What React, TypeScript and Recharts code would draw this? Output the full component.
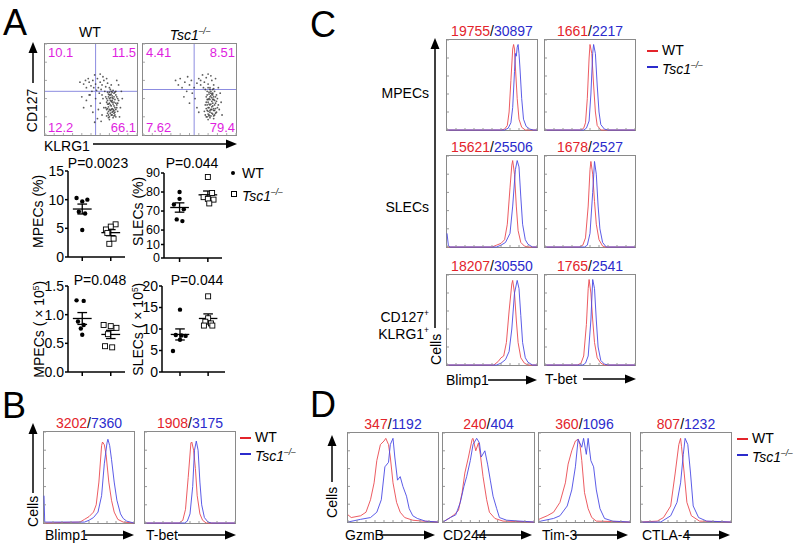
import React from "react";
import { ScatterChart, Scatter, LineChart, Line, XAxis, YAxis, ReferenceLine } from "recharts";

const FONT = "'Liberation Sans', Arial, Helvetica, sans-serif";
const TXT_RED = "#e3242b";
const TXT_BLUE = "#2b2bcc";
const CURVE_RED = "#ea4a50";
const CURVE_BLUE = "#4a4ae4";
const MAGENTA = "#e01ee0";
const QUAD = "#8c8ce0";
const AX = { stroke: "#000", strokeWidth: 1.5 };

type Pt = [number, number];

// ---------- panel A: flow plots (KLRG1 vs CD127, arbitrary 0-100 units) ----------
const wtQuad = ["10.1", "11.5", "12.2", "66.1"];
const koQuad = ["4.41", "8.51", "7.62", "79.4"];
const wtGate: Pt = [55, 48];
const koGate: Pt = [55, 50];

const wtFlow: Pt[] = [
  [70, 20], [72, 22], [74, 19], [68, 24], [76, 25], [71, 27], [73, 29], [69, 31], [75, 32], [77, 28],
  [70, 35], [72, 37], [74, 34], [68, 38], [76, 39], [71, 41], [73, 43], [69, 45], [75, 46], [78, 42],
  [67, 28], [79, 35], [70, 17], [73, 25], [75, 21], [72, 32], [74, 40], [70, 44], [77, 48], [71, 50],
  [66, 42], [68, 34], [78, 30], [76, 22], [73, 47], [80, 38], [69, 26], [74, 28], [72, 45], [70, 40],
  [67, 21], [69, 19], [71, 24], [73, 22], [75, 24], [77, 20], [79, 26], [66, 30], [68, 29], [70, 28],
  [72, 28], [74, 26], [76, 30], [78, 33], [67, 36], [69, 34], [71, 38], [73, 36], [75, 36], [77, 35],
  [79, 40], [67, 40], [69, 42], [71, 44], [73, 41], [75, 42], [77, 44], [70, 47], [72, 48], [74, 49],
  [68, 47], [76, 47],
  [58, 52], [62, 55], [66, 53], [60, 58], [64, 60], [55, 56], [50, 54], [52, 60], [48, 58], [45, 52],
  [57, 62], [61, 50], [68, 57], [70, 52], [63, 64], [54, 66], [47, 62], [42, 56], [59, 46], [65, 48],
  [72, 55], [56, 49], [51, 48], [44, 60], [60, 67], [67, 62], [53, 52], [49, 44], [62, 44], [38, 58],
  [45, 38], [50, 32], [55, 40], [58, 28], [60, 35], [62, 22], [52, 25], [48, 44], [40, 42], [64, 30],
  [57, 18], [63, 40], [42, 30], [54, 14], [61, 15], [82, 30], [84, 40], [81, 20], [83, 48], [80, 55],
  [78, 60], [71, 33], [73, 38], [75, 27], [69, 22],
];

const koFlow: Pt[] = [
  [68, 20], [70, 23], [72, 19], [74, 24], [76, 21], [69, 27], [71, 30], [73, 28], [75, 32], [77, 27],
  [78, 35], [70, 36], [72, 39], [74, 37], [76, 42], [68, 42], [71, 45], [73, 48], [75, 46], [79, 44],
  [67, 33], [80, 30], [72, 25], [74, 31], [70, 17], [76, 18], [78, 24], [71, 40], [73, 34], [75, 50],
  [69, 48], [77, 38], [80, 40], [66, 26], [73, 43], [70, 30], [74, 45], [68, 36], [72, 33], [76, 29],
  [67, 22], [69, 20], [71, 22], [73, 21], [75, 23], [77, 22], [79, 25], [81, 33], [68, 29], [70, 26],
  [72, 27], [74, 28], [76, 27], [78, 29], [69, 33], [71, 34], [75, 35], [77, 33], [79, 37], [70, 39],
  [72, 42], [74, 41], [76, 39], [78, 42], [69, 44], [71, 47], [73, 46], [75, 44], [77, 48], [72, 50],
  [70, 52], [76, 51],
  [62, 55], [66, 58], [70, 56], [74, 60], [68, 63], [64, 66], [72, 52], [60, 62], [76, 55], [78, 62],
  [65, 52], [70, 67], [58, 57], [73, 65], [67, 50], [62, 60], [45, 58], [50, 55], [40, 62], [35, 60],
  [48, 64], [52, 60], [42, 52], [55, 52], [38, 55], [47, 48], [53, 46], [44, 42], [56, 40], [58, 30],
  [60, 25], [50, 35], [82, 28], [84, 36], [83, 46], [81, 52], [85, 22], [71, 21], [75, 39], [69, 39],
];

// ---------- panel A: per-mouse values ----------
const mpecPctWT = [10.3, 10.0, 9.7, 7.9, 7.6, 4.7];
const mpecPctKO = [5.7, 5.3, 4.8, 4.2, 3.2, 2.3];
const slecPctWT = [80, 76.4, 73.4, 71, 65.6, 64.7];
const slecPctKO = [87.9, 79.5, 77.3, 76.4, 76, 74];
const mpecNumWT = [1.25, 1.24, 0.88, 0.82, 0.76, 0.65];
const mpecNumKO = [0.82, 0.8, 0.77, 0.66, 0.45, 0.43];
const slecNumWT = [14.5, 8.6, 8.5, 8.4, 7.5, 4.9];
const slecNumKO = [17.6, 12.5, 11.7, 11.3, 10.8, 10.8];

// horizontal scatter of the dots around each group
const mpecPctWTJit = [-0.2, 0.18, 0.0, -0.12, 0.1, 0.0];
const mpecPctKOJit = [0.17, 0.0, -0.17, -0.12, 0.1, -0.05];
const slecPctWTJit = [0.0, 0.0, -0.2, 0.15, -0.1, 0.1];
const slecPctKOJit = [0.0, 0.15, -0.15, 0.0, 0.2, 0.05];
const mpecNumWTJit = [-0.2, 0.05, -0.15, 0.05, -0.05, 0.0];
const mpecNumKOJit = [-0.25, 0.0, 0.2, -0.1, -0.2, 0.05];
const slecNumWTJit = [0.0, -0.15, 0.05, 0.2, 0.0, -0.25];
const slecNumKOJit = [0.0, 0.0, -0.1, 0.1, -0.15, 0.15];

const mpecPctTicks = [0, 5, 10, 15];
const slecPctTicks = [0, 10, 60, 70, 80, 90];
const mpecNumTicks = [0, 0.5, 1.0, 1.5];
const slecNumTicks = [0, 5, 10, 15, 20];

// ---------- histograms: [x %, height %] ----------
const mfiB = [["3202", "7360"], ["1908", "3175"]];
const bBlimpWT: Pt[] = [[0, 0], [40, 1], [45, 4], [50, 7], [55, 12], [58, 20], [61, 45], [64, 85], [65, 89], [67, 86], [69, 75], [72, 45], [75, 25], [78, 12], [82, 4], [88, 1], [100, 0]];
const bBlimpKO: Pt[] = [[0, 30], [0.8, 1], [45, 1], [50, 3], [55, 6], [60, 12], [64, 30], [67, 65], [70, 88], [71, 92], [73, 85], [75, 70], [78, 45], [81, 25], [85, 10], [88, 5], [92, 2], [100, 0]];
const bTbetWT: Pt[] = [[0, 0], [38, 0], [42, 3], [45, 15], [48, 50], [51, 88], [52, 89], [54, 80], [56, 60], [58, 30], [61, 10], [64, 3], [68, 0], [100, 0]];
const bTbetKO: Pt[] = [[0, 0], [44, 0], [47, 2], [50, 10], [53, 40], [55, 80], [57, 90], [59, 80], [61, 45], [63, 20], [66, 6], [70, 1], [74, 0], [100, 0]];

const mfiC = [["19755", "30897"], ["1661", "2217"], ["15621", "25506"], ["1678", "2527"], ["18207", "30550"], ["1765", "2541"]];
const cMpBlimpWT: Pt[] = [[0, 0], [60, 0], [64, 1], [67, 5], [69, 20], [71, 55], [73, 90], [74, 95], [75, 90], [76, 70], [78, 35], [80, 12], [83, 3], [87, 0], [100, 0]];
const cMpBlimpKO: Pt[] = [[0, 0], [64, 0], [68, 2], [71, 8], [73, 25], [75, 65], [76, 85], [77, 82], [78, 92], [79, 95], [80, 85], [81, 70], [83, 35], [85, 12], [88, 4], [92, 1], [96, 0], [100, 0]];
const cMpTbetWT: Pt[] = [[0, 0], [40, 0], [43, 2], [45, 8], [47, 35], [49, 80], [50, 95], [52, 85], [54, 50], [56, 20], [58, 5], [62, 0], [100, 0]];
const cMpTbetKO: Pt[] = [[0, 0], [43, 0], [46, 2], [49, 10], [51, 40], [53, 85], [54, 95], [56, 85], [58, 50], [60, 20], [62, 6], [66, 1], [70, 0], [100, 0]];
const cSlBlimpWT: Pt[] = [[0, 0], [50, 0], [55, 2], [60, 4], [64, 8], [67, 25], [70, 65], [72, 90], [73, 95], [75, 80], [77, 45], [79, 18], [82, 5], [86, 1], [90, 0], [100, 0]];
const cSlBlimpKO: Pt[] = [[0, 15], [1.5, 2], [3, 0], [55, 0], [60, 2], [65, 5], [70, 15], [73, 45], [76, 85], [78, 95], [80, 88], [82, 55], [84, 25], [87, 8], [90, 3], [95, 0], [100, 0]];
const cSlTbetWT: Pt[] = [[0, 0], [38, 0], [42, 2], [45, 10], [48, 45], [50, 85], [51, 94], [53, 80], [55, 50], [57, 25], [60, 8], [64, 1], [67, 0], [100, 0]];
const cSlTbetKO: Pt[] = [[0, 0], [44, 0], [47, 2], [50, 15], [53, 60], [55, 94], [57, 80], [59, 45], [61, 20], [64, 5], [68, 0], [100, 0]];
const cDpBlimpWT: Pt[] = [[0, 0], [52, 0], [57, 4], [60, 8], [63, 10], [66, 25], [69, 60], [72, 90], [73, 94], [75, 80], [77, 50], [79, 25], [82, 8], [86, 2], [90, 0], [100, 0]];
const cDpBlimpKO: Pt[] = [[0, 0], [55, 0], [60, 2], [65, 6], [69, 15], [72, 40], [75, 80], [78, 94], [80, 85], [82, 55], [84, 25], [87, 8], [90, 3], [95, 0], [100, 0]];
const cDpTbetWT: Pt[] = [[0, 0], [36, 0], [40, 2], [43, 10], [46, 45], [48, 85], [49, 95], [51, 80], [53, 50], [55, 25], [58, 8], [62, 2], [66, 0], [100, 0]];
const cDpTbetKO: Pt[] = [[0, 0], [42, 0], [45, 2], [48, 10], [51, 50], [53, 95], [55, 85], [57, 50], [59, 20], [62, 5], [66, 1], [70, 0], [100, 0]];

const mfiD = [["347", "1192"], ["240", "404"], ["360", "1096"], ["807", "1232"]];
const dGzmbWT: Pt[] = [[0, 8], [3.6, 5], [14, 7], [20, 11], [25, 25], [29, 44], [32, 69], [36, 87], [40, 91], [42, 94], [45, 87], [47, 73], [50, 44], [54, 22], [58, 11], [63, 5], [72, 2], [83, 1], [100, 0]];
const dGzmbKO: Pt[] = [[0, 0], [14, 3], [25, 5], [32, 11], [37, 25], [41, 62], [45, 67], [47, 87], [50, 94], [52, 73], [55, 47], [58, 51], [61, 40], [65, 29], [68, 15], [72, 7], [77, 4], [86, 1], [100, 0]];
const dCd244WT: Pt[] = [[0, 0], [8, 5], [12, 8], [17, 13], [21, 33], [24, 55], [28, 73], [32, 93], [33, 94], [36, 80], [39, 89], [41, 76], [44, 51], [48, 25], [51, 11], [57, 4], [66, 1], [100, 0]];
const dCd244KO: Pt[] = [[0, 0], [8, 5], [14, 8], [19, 22], [23, 40], [26, 51], [30, 69], [33, 87], [37, 94], [40, 89], [42, 73], [46, 80], [49, 65], [52, 47], [55, 29], [59, 15], [62, 5], [70, 2], [100, 0]];
const dTim3WT: Pt[] = [[0, 3], [2, 4], [9, 7], [16, 11], [23, 22], [29, 44], [32, 65], [36, 80], [40, 91], [43, 93], [45, 87], [47, 69], [50, 33], [54, 15], [58, 5], [63, 1], [100, 0]];
const dTim3KO: Pt[] = [[0, 0], [2, 1], [16, 4], [23, 7], [31, 18], [36, 36], [40, 62], [43, 93], [47, 84], [49, 94], [52, 76], [54, 94], [57, 69], [60, 62], [63, 36], [67, 15], [72, 4], [81, 1], [100, 0]];
const dCtla4WT: Pt[] = [[0, 0], [18, 1], [25, 5], [33, 18], [38, 55], [42, 87], [44, 94], [45, 85], [48, 55], [51, 22], [56, 7], [65, 1], [100, 0]];
const dCtla4KO: Pt[] = [[0, 0], [22, 0], [33, 7], [40, 22], [44, 44], [47, 76], [49, 94], [52, 87], [55, 55], [58, 18], [64, 5], [73, 1], [100, 0]];

const xTicks = [0, 10, 20, 30, 40, 50, 60, 70, 80, 90, 100];
const yTicks = [0, 20, 40, 60, 80, 100];

const toXY = (a: Pt[]) => a.map(([x, y]) => ({ x, y }));
const meanSem = (a: number[]) => {
  const m = a.reduce((s, v) => s + v, 0) / a.length;
  const sd = Math.sqrt(a.reduce((s, v) => s + (v - m) ** 2, 0) / (a.length - 1));
  return [m, sd / Math.sqrt(a.length)];
};
// broken SLECs (%) axis: 0-10 squeezed below 60-90
const slecBreak = (v: number) => (v >= 60 ? v - 45.3 : v * 0.71);

const Tsc = () => (
  <i>
    Tsc1<sup style={{ fontSize: "0.6em" }}>–/–</sup>
  </i>
);

function Txt({ x, y, size = 14, anchor = "start", color = "#000", rotate = false, children }: any) {
  const tx = anchor === "middle" ? "-50%" : anchor === "end" ? "-100%" : "0";
  return (
    <div
      style={{
        position: "absolute",
        left: x,
        top: y - size * 0.6,
        lineHeight: `${size * 1.2}px`,
        fontSize: size,
        color,
        whiteSpace: "nowrap",
        transform: rotate ? "translate(-50%, 0) rotate(-90deg)" : `translateX(${tx})`,
        transformOrigin: "50% 50%",
      }}
    >
      {children}
    </div>
  );
}

function FlowPlot({ left, top, w, h, pts, gate, quad }: any) {
  return (
    <div style={{ position: "absolute", left, top, width: w, height: h }}>
      <div style={{ position: "absolute", inset: 0, border: "1px solid #8a8a8a" }} />
      <ScatterChart width={w} height={h} margin={{ top: 1, right: 1, bottom: 1, left: 1 }}>
        <XAxis type="number" dataKey="x" domain={[0, 100]} ticks={xTicks} mirror axisLine={false} tickSize={2} tickFormatter={() => ""} tickLine={{ stroke: "#aaa" }} />
        <YAxis type="number" dataKey="y" domain={[0, 100]} ticks={yTicks} mirror axisLine={false} tickSize={2} tickFormatter={() => ""} tickLine={{ stroke: "#aaa" }} />
        <ReferenceLine x={gate[0]} stroke={QUAD} strokeWidth={1} />
        <ReferenceLine y={gate[1]} stroke={QUAD} strokeWidth={1} />
        <Scatter
          data={toXY(pts)}
          isAnimationActive={false}
          shape={(p: any) => <circle cx={p.cx} cy={p.cy} r={0.9} fill="#333" opacity={0.8} />}
        />
      </ScatterChart>
      <Txt x={4} y={10} size={13} color={MAGENTA}>{quad[0]}</Txt>
      <Txt x={w - 2} y={10} size={13} color={MAGENTA} anchor="end">{quad[1]}</Txt>
      <Txt x={4} y={h - 8} size={13} color={MAGENTA}>{quad[2]}</Txt>
      <Txt x={w - 2} y={h - 8} size={13} color={MAGENTA} anchor="end">{quad[3]}</Txt>
    </div>
  );
}

function Hist({ left, top, w, h, wt, ko, mfi }: any) {
  return (
    <div style={{ position: "absolute", left, top, width: w, height: h }}>
      <Txt x={w / 2} y={-8} anchor="middle">
        <span style={{ color: TXT_RED }}>{mfi[0]}</span>/<span style={{ color: TXT_BLUE }}>{mfi[1]}</span>
      </Txt>
      <div style={{ position: "absolute", inset: 0, border: "1px solid #8a8a8a" }} />
      <LineChart width={w} height={h} margin={{ top: 1, right: 1, bottom: 1, left: 1 }}>
        <XAxis type="number" dataKey="x" domain={[0, 100]} ticks={xTicks} mirror axisLine={false} tickSize={2} tickFormatter={() => ""} tickLine={{ stroke: "#999" }} />
        <YAxis type="number" domain={[0, 100]} ticks={yTicks} mirror axisLine={false} tickSize={2} tickFormatter={() => ""} tickLine={{ stroke: "#999" }} />
        <Line data={toXY(wt)} dataKey="y" type="linear" stroke={CURVE_RED} strokeWidth={0.9} dot={false} isAnimationActive={false} />
        <Line data={toXY(ko)} dataKey="y" type="linear" stroke={CURVE_BLUE} strokeWidth={0.9} dot={false} isAnimationActive={false} />
      </LineChart>
    </div>
  );
}

function DotPlot({ axisX, xEnd, yTop, yBottom, xDomain, yDomain, ticks, fmt, wt, ko, wtJit, koJit, tf, tickSizeFont = 14 }: any) {
  const yw = 30, mt = 8, xh = 6, mb = 2, mr = 2;
  const t = tf || ((v: number) => v);
  const w = yw + (xEnd - axisX) + mr;
  const h = mt + (yBottom - yTop) + xh + mb;
  const wtPts = wt.map((v: number, i: number) => ({ x: 1 + wtJit[i], y: t(v) }));
  const koPts = ko.map((v: number, i: number) => ({ x: 2 + koJit[i], y: t(v) }));
  const bars = [wt, ko].flatMap((vals: number[], gi: number) => {
    const c = gi + 1;
    const [m, s] = meanSem(vals);
    const seg = (x1: number, y1: number, x2: number, y2: number, k: string) => (
      <ReferenceLine key={`${gi}-${k}`} segment={[{ x: x1, y: t(y1) }, { x: x2, y: t(y2) }]} stroke="#000" strokeWidth={1.3} />
    );
    return [
      seg(c - 0.33, m, c + 0.33, m, "m"),
      seg(c, m - s, c, m + s, "v"),
      seg(c - 0.17, m + s, c + 0.17, m + s, "t"),
      seg(c - 0.17, m - s, c + 0.17, m - s, "b"),
    ];
  });
  return (
    <div style={{ position: "absolute", left: axisX - yw, top: yTop - mt }}>
      <ScatterChart width={w} height={h} margin={{ top: mt, right: mr, bottom: mb, left: 0 }}>
        <XAxis type="number" dataKey="x" domain={xDomain} ticks={[1, 2]} tickFormatter={() => ""} height={xh} tickSize={4} axisLine={AX} tickLine={AX} allowDataOverflow />
        <YAxis
          type="number"
          dataKey="y"
          domain={yDomain}
          ticks={ticks.map(t)}
          interval={0}
          tickFormatter={fmt}
          width={yw}
          tickSize={3}
          tickMargin={1}
          axisLine={AX}
          tickLine={AX}
          tick={{ fill: "#000", fontSize: tickSizeFont, fontFamily: FONT }}
          allowDataOverflow
        />
        {bars}
        <Scatter data={wtPts} isAnimationActive={false} shape={(p: any) => <circle cx={p.cx} cy={p.cy} r={2.2} fill="#000" />} />
        <Scatter
          data={koPts}
          isAnimationActive={false}
          shape={(p: any) => <rect x={p.cx - 2.5} y={p.cy - 2.5} width={5} height={5} fill="#fff" stroke="#000" strokeWidth={0.9} />}
        />
      </ScatterChart>
    </div>
  );
}

const arrowH = (x1: number, x2: number, y: number, k: string) => (
  <g key={k}>
    <line x1={x1} y1={y} x2={x2 - 8} y2={y} stroke="#000" strokeWidth={1.5} />
    <polygon points={`${x2},${y} ${x2 - 11},${y - 4.5} ${x2 - 11},${y + 4.5}`} fill="#000" />
  </g>
);
const arrowV = (x: number, yTopHead: number, y2: number, k: string) => (
  <g key={k}>
    <line x1={x} y1={yTopHead + 8} x2={x} y2={y2} stroke="#000" strokeWidth={1.5} />
    <polygon points={`${x},${yTopHead} ${x - 4.5},${yTopHead + 11} ${x + 4.5},${yTopHead + 11}`} fill="#000" />
  </g>
);

const LegendLines = ({ x, y }: any) => (
  <>
    <div style={{ position: "absolute", left: x, top: y, width: 11, height: 1.5, background: TXT_RED }} />
    <Txt x={x + 15} y={y}>WT</Txt>
    <div style={{ position: "absolute", left: x, top: y + 16, width: 11, height: 1.5, background: TXT_BLUE }} />
    <Txt x={x + 15} y={y + 16}><Tsc /></Txt>
  </>
);

export default function App() {
  const pctFmt = (v: number) => String(v);
  const slecFmt = (v: number) => {
    const i = slecPctTicks.map(slecBreak).findIndex((t) => Math.abs(t - v) < 0.01);
    return i >= 0 ? String(slecPctTicks[i]) : "";
  };
  return (
    <div style={{ position: "absolute", left: 0, top: 0, width: 799, height: 543, background: "#fff", fontFamily: FONT, color: "#000", overflow: "hidden" }}>
      {/* ---------- A ---------- */}
      <Txt x={3} y={22.5} size={36}>A</Txt>
      <Txt x={90} y={32} anchor="middle">WT</Txt>
      <Txt x={190} y={32} anchor="middle"><Tsc /></Txt>
      <FlowPlot left={44} top={43} w={94} h={93} pts={wtFlow} gate={wtGate} quad={wtQuad} />
      <FlowPlot left={142} top={43} w={95} h={93} pts={koFlow} gate={koGate} quad={koQuad} />
      <Txt x={32} y={110} rotate>CD127</Txt>
      <Txt x={44} y={146}>KLRG1</Txt>

      <Txt x={98} y={163} anchor="middle">P=0.0023</Txt>
      <Txt x={192} y={163} anchor="middle">P=0.044</Txt>
      <Txt x={100} y={280} anchor="middle">P=0.048</Txt>
      <Txt x={197} y={280} anchor="middle">P=0.044</Txt>
      <Txt x={38} y={211} rotate>MPECs (%)</Txt>
      <Txt x={137.5} y={211} rotate>SLECs (%)</Txt>
      <Txt x={38} y={327} rotate>MPECs ( × 10<sup style={{ fontSize: "0.6em" }}>5</sup>)</Txt>
      <Txt x={136.5} y={327} rotate>SLECs ( × 10<sup style={{ fontSize: "0.6em" }}>5</sup>)</Txt>

      <DotPlot axisX={68} xEnd={125} yTop={171} yBottom={257} xDomain={[0.5, 2.5]} yDomain={[0, 15]} ticks={mpecPctTicks} fmt={pctFmt}
        wt={mpecPctWT} ko={mpecPctKO} wtJit={mpecPctWTJit} koJit={mpecPctKOJit} />
      <DotPlot axisX={164} xEnd={222} yTop={173} yBottom={258} xDomain={[0.45, 2.5]} yDomain={[0, slecBreak(90)]} ticks={slecPctTicks} fmt={slecFmt}
        wt={slecPctWT} ko={slecPctKO} wtJit={slecPctWTJit} koJit={slecPctKOJit} tf={slecBreak} tickSizeFont={12.5} />
      <DotPlot axisX={68} xEnd={125} yTop={286} yBottom={372} xDomain={[0.5, 2.5]} yDomain={[0, 1.5]} ticks={mpecNumTicks} fmt={(v: number) => v.toFixed(1)}
        wt={mpecNumWT} ko={mpecNumKO} wtJit={mpecNumWTJit} koJit={mpecNumKOJit} />
      <DotPlot axisX={162} xEnd={225} yTop={286} yBottom={372} xDomain={[0.36, 2.6]} yDomain={[0, 20]} ticks={slecNumTicks} fmt={pctFmt}
        wt={slecNumWT} ko={slecNumKO} wtJit={slecNumWTJit} koJit={slecNumKOJit} />

      <div style={{ position: "absolute", left: 231, top: 171, width: 4, height: 4, borderRadius: 2, background: "#000" }} />
      <Txt x={242} y={173}>WT</Txt>
      <div style={{ position: "absolute", left: 230.5, top: 190.5, width: 4, height: 4, border: "0.9px solid #000" }} />
      <Txt x={242} y={193}><Tsc /></Txt>

      {/* ---------- B ---------- */}
      <Txt x={2} y={405.5} size={36}>B</Txt>
      <Hist left={43} top={431} w={92} h={93} wt={bBlimpWT} ko={bBlimpKO} mfi={mfiB[0]} />
      <Hist left={144} top={431} w={92} h={93} wt={bTbetWT} ko={bTbetKO} mfi={mfiB[1]} />
      <LegendLines x={240} y={437} />
      <Txt x={33} y={511} rotate>Cells</Txt>
      <Txt x={45} y={535}>Blimp1</Txt>
      <Txt x={146} y={535}>T-bet</Txt>

      {/* ---------- C ---------- */}
      <Txt x={310} y={25} size={36}>C</Txt>
      <Hist left={446} top={39} w={92} h={92} wt={cMpBlimpWT} ko={cMpBlimpKO} mfi={mfiC[0]} />
      <Hist left={544} top={39} w={92} h={92} wt={cMpTbetWT} ko={cMpTbetKO} mfi={mfiC[1]} />
      <Hist left={446} top={155} w={92} h={93} wt={cSlBlimpWT} ko={cSlBlimpKO} mfi={mfiC[2]} />
      <Hist left={544} top={155} w={92} h={93} wt={cSlTbetWT} ko={cSlTbetKO} mfi={mfiC[3]} />
      <Hist left={446} top={274} w={92} h={92} wt={cDpBlimpWT} ko={cDpBlimpKO} mfi={mfiC[4]} />
      <Hist left={544} top={274} w={92} h={92} wt={cDpTbetWT} ko={cDpTbetKO} mfi={mfiC[5]} />
      <LegendLines x={647} y={50} />
      <Txt x={429} y={93} anchor="end">MPECs</Txt>
      <Txt x={429} y={207} anchor="end">SLECs</Txt>
      <Txt x={429} y={313} anchor="end">CD127<sup style={{ fontSize: "0.6em" }}>+</sup></Txt>
      <Txt x={429} y={330} anchor="end">KLRG1<sup style={{ fontSize: "0.6em" }}>+</sup></Txt>
      <Txt x={436} y={349} rotate>Cells</Txt>
      <Txt x={446} y={380}>Blimp1</Txt>
      <Txt x={545} y={379}>T-bet</Txt>

      {/* ---------- D ---------- */}
      <Txt x={310} y={404.5} size={36}>D</Txt>
      <Hist left={347} top={432} w={92} h={91} wt={dGzmbWT} ko={dGzmbKO} mfi={mfiD[0]} />
      <Hist left={442} top={432} w={93} h={91} wt={dCd244WT} ko={dCd244KO} mfi={mfiD[1]} />
      <Hist left={538} top={432} w={93} h={91} wt={dTim3WT} ko={dTim3KO} mfi={mfiD[2]} />
      <Hist left={640} top={432} w={92} h={91} wt={dCtla4WT} ko={dCtla4KO} mfi={mfiD[3]} />
      <LegendLines x={737} y={438} />
      <Txt x={332} y={502} rotate>Cells</Txt>
      <Txt x={345} y={535}>GzmB</Txt>
      <Txt x={443} y={535}>CD244</Txt>
      <Txt x={542} y={535}>Tim-3</Txt>
      <Txt x={642} y={535}>CTLA-4</Txt>

      <svg width={799} height={543} style={{ position: "absolute", left: 0, top: 0, pointerEvents: "none" }}>
        {arrowV(33, 42, 83, "a1")}
        {arrowH(93, 237, 144, "a2")}
        {arrowV(33, 423, 493, "b1")}
        {arrowH(85, 134, 535, "b2")}
        {arrowH(178, 236, 535, "b3")}
        {arrowV(435, 38, 328, "c1")}
        {arrowH(488, 537, 380, "c2")}
        {arrowH(583, 636, 379, "c3")}
        {arrowV(332, 435, 482, "d1")}
        {arrowH(380, 435, 535, "d2")}
        {arrowH(477, 532, 535, "d3")}
        {arrowH(573, 628, 535, "d4")}
        {arrowH(685, 730, 535, "d5")}
      </svg>
    </div>
  );
}
